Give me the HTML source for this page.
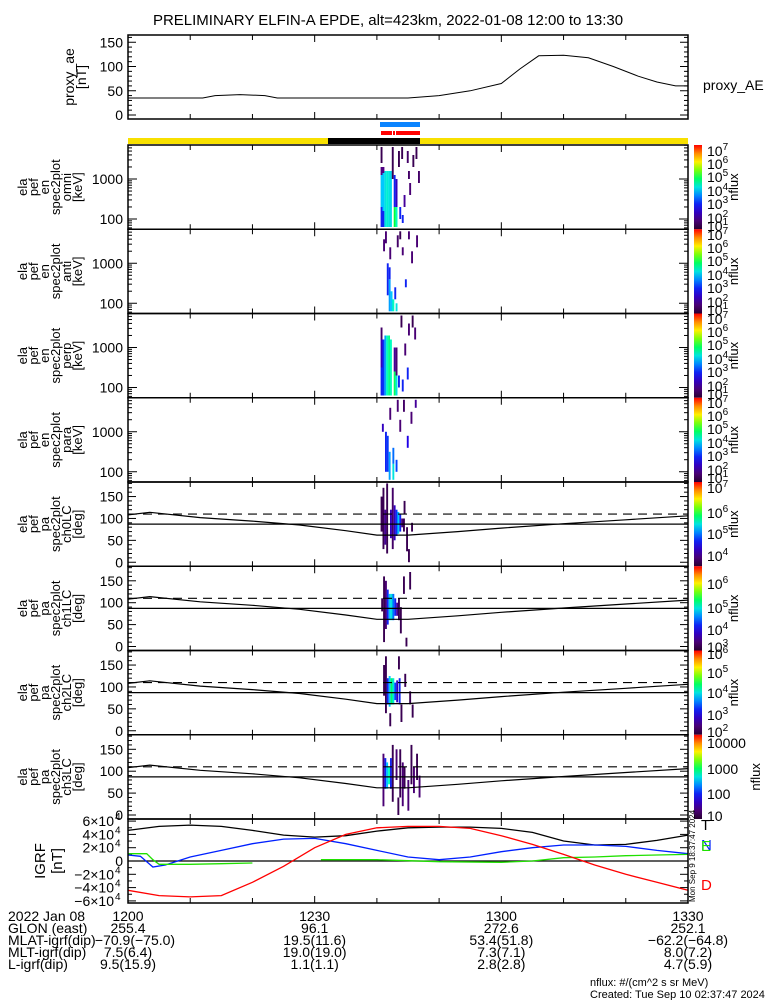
<!DOCTYPE html>
<html><head><meta charset="utf-8">
<style>
html,body{margin:0;padding:0;background:#fff;}
svg{display:block;font-family:"Liberation Sans",sans-serif;}
</style></head>
<body>
<svg id="c" width="775" height="1000" viewBox="0 0 775 1000"></svg>
<script>
// ---------- data ----------
const aeT = [0,12,14,18,22,24,45,50,55,60,63,66,70,74,78,82,85,88,90];
const aeV = [35,35,40,42,40,35,35,40,50,65,95,122,123,118,100,80,68,60,60];

const grfT = [0,5,10,15,20,25,30,35,40,45,50,55,60,65,70,75,80,85,90];
const grfTotal = [4.6,5.2,5.4,5.2,4.6,3.9,3.6,3.8,4.5,5.0,5.1,5.1,4.9,4.3,3.0,2.4,2.5,3.1,3.9];
const grfD = [-4.4,-5.2,-5.4,-5.2,-3.2,-0.8,2.0,4.0,5.0,5.2,5.2,4.9,3.8,2.5,1.0,-0.6,-2.0,-3.2,-4.4];
const grfNt = [0,2,4,6,10,15,20,25,30,35,40,45,50,55,60,65,70,75,80,85,90];
const grfN = [0.9,0.7,-0.9,-0.6,0.6,1.6,2.6,3.3,3.4,2.6,1.6,0.6,0.2,0.6,1.4,2.0,2.4,2.4,2.2,1.6,1.1];
const grfEt = [0,3,4,5,10,15,20,31,40,50,60,65,70,75,80,85,90];
const grfE = [1.1,1.1,0.2,-0.5,-0.5,-0.4,-0.3,0.2,0.2,-0.1,-0.2,0.0,0.5,0.6,0.8,0.9,1.0];
const grfEgap = 20; // gap between index 6 and 7

const lcT = [0,3.5,11.6,20,27.6,35,40,45,53,60,70,80,90];
const lcV = [108,114,102,94,85,72,62,62,70,78,88,97,106];
const paSolid = 87, paDashed = 110;

const spec1 = [[40.6,1.8,2.3,.3],[40.6,2.3,3.1,.45],[40.6,3.1,3.3,.12],[40.6,3.4,3.8,.05],[40.9,1.8,2.2,.3],[40.9,2.2,3.15,.45],[40.9,3.15,3.3,.12],[41.2,1.8,3.2,.5],[41.5,1.8,3.2,.52],[41.8,1.8,3.2,.5],[42.1,1.8,3.2,.48],[42.4,3.0,3.8,.05],[42.7,1.8,2.3,.62],[42.7,2.3,3.1,.3],[43.0,1.8,2.3,.55],[43.0,2.3,3.0,.2],[43.4,3.3,3.7,.05],[43.9,3.5,3.8,.05],[44.3,2.3,2.6,.15],[44.8,3.4,3.7,.08],[45.2,2.6,2.9,.1],[45.7,3.3,3.6,.05],[46.2,3.5,3.8,.05],[46.6,2.9,3.2,.08],[43.6,2.0,2.3,.3],[44.0,1.9,2.1,.3],[45.0,3.0,3.2,.08]];
const spec2 = [[41.6,2.2,3.0,.3],[41.9,1.8,2.6,.42],[41.9,2.6,2.9,.3],[42.2,1.8,2.3,.45],[42.5,1.8,2.1,.55],[41.0,3.3,3.6,.1],[41.3,3.5,3.8,.1],[42.0,3.1,3.4,.1],[43.2,3.4,3.7,.08],[43.6,3.6,3.8,.05],[44.0,3.2,3.4,.1],[44.5,2.4,2.6,.3],[45.0,3.6,3.8,.1],[45.5,3.0,3.3,.1],[46.3,3.4,3.7,.1],[42.8,2.1,2.4,.3],[43.0,1.8,2.0,.5]];
const spec3 = [[40.6,1.8,2.5,.3],[40.6,2.5,3.2,.2],[40.6,3.2,3.5,.08],[40.9,1.8,3.2,.32],[41.2,1.8,3.3,.42],[41.5,1.8,3.3,.55],[41.8,1.8,3.3,.58],[42.1,1.8,3.2,.55],[42.7,1.8,2.4,.6],[42.7,2.4,3.0,.15],[43.0,1.8,2.3,.5],[43.0,2.3,3.0,.1],[43.4,2.0,2.3,.3],[44.0,1.9,2.2,.3],[44.4,2.8,3.1,.1],[45.0,3.3,3.6,.1],[45.6,3.5,3.8,.05],[46.0,3.2,3.5,.1],[43.8,3.5,3.8,.05],[44.8,2.2,2.5,.3]];
const spec4 = [[41.3,2.0,3.0,.3],[41.6,2.0,2.9,.33],[41.9,1.8,2.5,.42],[42.5,1.8,2.2,.5],[42.5,2.2,2.6,.38],[40.8,3.0,3.2,.2],[42.0,3.3,3.6,.1],[43.2,3.5,3.8,.1],[43.6,3.0,3.3,.1],[44.2,3.5,3.8,.08],[44.8,2.6,2.9,.25],[45.4,3.2,3.5,.1],[46.1,3.6,3.8,.15],[43.0,2.0,2.3,.35]];
const spec5 = [[40.6,70,150,.05],[40.9,30,170,.05],[41.2,40,120,.15],[41.5,20,180,.05],[42.1,55,120,.2],[42.4,30,170,.08],[42.7,50,130,.2],[43.0,60,120,.32],[43.3,65,115,.45],[43.6,70,110,.3],[43.9,80,100,.1],[44.2,70,100,.05],[44.7,25,80,.05],[44.3,110,140,.05],[45.0,0,30,.05],[45.5,70,90,.05]];
const spec6 = [[41.0,10,160,.05],[41.3,40,150,.1],[41.6,50,130,.3],[41.9,60,120,.45],[42.2,60,120,.5],[42.5,60,120,.38],[42.8,70,110,.3],[43.1,70,100,.15],[43.4,60,110,.05],[43.7,30,90,.05],[44.2,120,160,.05],[44.6,0,20,.05],[45.2,130,170,.05],[40.7,80,110,.05]];
const spec7 = [[41.0,80,150,.05],[41.3,40,170,.05],[41.6,60,120,.3],[41.9,55,125,.45],[42.2,60,120,.6],[42.5,60,120,.5],[42.8,70,110,.35],[43.1,65,115,.2],[43.5,60,120,.3],[43.8,20,60,.05],[42.0,10,40,.05],[44.4,100,130,.05],[45.2,60,90,.05],[45.6,30,60,.05],[43.4,140,170,.05]];
const spec8 = [[40.9,20,140,.1],[41.2,60,130,.3],[41.5,60,120,.45],[41.8,70,110,.55],[42.1,60,130,.3],[42.4,30,160,.05],[43.0,80,150,.1],[43.6,40,150,.05],[44.0,20,120,.1],[44.3,60,110,.05],[44.9,10,80,.1],[45.4,70,160,.05],[45.8,50,110,.1],[46.3,80,140,.05],[46.7,40,90,.1],[43.3,0,40,.05]];

const panelNames = ["omni","anti","perp","para","ch0LC","ch1LC","ch2LC","ch3LC"];
const cbLabels = [
 [["7",148],["6",161],["5",174],["4",188],["3",201],["2",215],["1",223]],
 [["7",232],["6",245],["5",258],["4",272],["3",285],["2",299],["1",307]],
 [["7",316],["6",329],["5",342],["4",356],["3",369],["2",383],["1",391]],
 [["7",400],["6",413],["5",426],["4",440],["3",453],["2",467],["1",475]],
 [["7",485],["6",510],["5",531],["4",553]],
 [["6",581],["5",605],["4",627],["3",644]],
 [["6",651],["5",670],["4",690],["3",712],["2",729]],
 [["10000",743],["1000",769],["100",794],["10",816]]
];

// ---------- helpers ----------
const svg = document.getElementById('c');
const NS = 'http://www.w3.org/2000/svg';
const X0 = 128, X1 = 688, TMAX = 90;
function xs(t){ return X0 + t*(X1-X0)/TMAX; }
function mk(tag, attrs, parent){
  const e = document.createElementNS(NS, tag);
  for (const k in attrs) e.setAttribute(k, attrs[k]);
  (parent||svg).appendChild(e);
  return e;
}
function txt(x,y,s,size,anchor,fill,parent){
  const e = mk('text',{x:x,y:y,'font-size':size,'text-anchor':anchor||'start',fill:fill||'#000'},parent);
  e.textContent = s; return e;
}
const stops = [[0,[40,0,48]],[0.12,[80,0,130]],[0.25,[30,0,230]],[0.35,[0,70,255]],[0.45,[0,200,255]],[0.55,[0,255,190]],[0.62,[0,255,60]],[0.72,[150,255,0]],[0.8,[255,240,0]],[0.9,[255,140,0]],[1,[255,0,0]]];
function cmap(v){
  for (let i=1;i<stops.length;i++){
    if (v<=stops[i][0]){
      const a=stops[i-1], b=stops[i], f=(v-a[0])/(b[0]-a[0]);
      const c=a[1].map((q,j)=>Math.round(q+(b[1][j]-q)*f));
      return 'rgb('+c.join(',')+')';
    }
  }
  return 'rgb(255,0,0)';
}
function polyline(ts, vs, yf, color, name, w){
  const pts = ts.map((t,i)=>xs(t).toFixed(1)+','+yf(vs[i]).toFixed(1)).join(' ');
  const p = mk('polyline',{points:pts,fill:'none',stroke:color,'stroke-width':w||1.2});
  
  
  return p;
}
function rotLabel(lines, cy, xStart, step, size){
  lines.forEach((s,i)=>{
    const cx = xStart + i*step;
    const e = mk('text',{x:cx+4,y:cy,'font-size':size,'text-anchor':'middle',transform:'rotate(-90 '+(cx+4)+' '+cy+')'});
    e.textContent = s;
  });
}
function timeTicks(top,bot){
  for (let t=10;t<90;t+=10){
    const l = (t%30===0)?7:5;
    mk('line',{x1:xs(t),y1:top,x2:xs(t),y2:top+l,stroke:'#000','stroke-width':1});
    mk('line',{x1:xs(t),y1:bot,x2:xs(t),y2:bot-l,stroke:'#000','stroke-width':1});
  }
}
function yTick(y,len){
  mk('line',{x1:X0,y1:y,x2:X0+len,y2:y,stroke:'#000','stroke-width':1});
  mk('line',{x1:X1,y1:y,x2:X1-len,y2:y,stroke:'#000','stroke-width':1});
}
function frame(top,bot,name){
  const r = mk('rect',{x:X0,y:top,width:X1-X0,height:bot-top,fill:'none',stroke:'#000','stroke-width':1.5});
  
  
}

// ---------- title ----------
const title = txt(388,25,'PRELIMINARY ELFIN-A EPDE, alt=423km, 2022-01-08 12:00 to 13:30',15,'middle');



// ---------- AE panel ----------
const aeTop=35, aeBot=119;
function yAE(v){ return 115 - v*0.485; }
timeTicks(aeTop,aeBot);
for (let v=0; v<=160; v+=10){ const y=yAE(v); if(y>aeTop) yTick(y, v%50===0?8:4); }
[0,50,100,150].forEach(v=>txt(123,yAE(v)+5,String(v),14,'end'));
polyline(aeT, aeV, yAE, '#000', 'proxy-ae-line', 1);
frame(aeTop,aeBot,'proxy-ae-panel');
rotLabel(['proxy_ae','[nT]'],77,70,12,14);
const aeLeg = txt(703,90,'proxy_AE',14,'start');



// ---------- status bars ----------
function bar(x1,x2,y,h,c,name){
  const r = mk('rect',{x:x1,y:y,width:x2-x1,height:h,fill:c});
  
  
}
bar(380,420,122,5,'#0a84ff','science-zone-bar-blue');
bar(381,392,131,4,'#ff0000','science-zone-bar-red-1');
bar(393,395,131,4,'#ff0000','science-zone-bar-red-2');
bar(396,420,131,4,'#ff0000','science-zone-bar-red-3');
bar(128,328,138,6,'#f8e000','sunlight-bar-left');
bar(328,420,138,6,'#000000','eclipse-bar');
bar(420,688,138,6,'#f8e000','sunlight-bar-right');

// ---------- spectrogram panels ----------
const specs = [spec1,spec2,spec3,spec4,spec5,spec6,spec7,spec8];
const PH = 84.25;
for (let p=0;p<8;p++){
  const top = 145 + p*PH, bot = top + PH;
  const isEn = p<4;
  const g = mk('g',{});
  
  
  const yf = isEn ? (l=> top+34+(3-l)*40) : (a=> bot-4-a*0.438);
  specs[p].forEach(c=>{
    const y1 = yf(c[2]), y2 = yf(c[1]);
    const r = mk('rect',{x:xs(c[0]).toFixed(1),y:Math.max(top,Math.min(y1,y2)).toFixed(1),width:(xs(c[0]+0.3)-xs(c[0])).toFixed(1),height:Math.abs(y2-y1).toFixed(1),fill:cmap(c[3])},g);
    
    
  });
  if (isEn){
    for (let d=1; d<=3; d++){
      for (let k=1;k<=9;k++){
        const l = d + Math.log10(k);
        const y = yf(l);
        if (y>top && y<bot) yTick(y, k===1?9:4);
      }
    }
    txt(123,yf(3)+5,'1000',14,'end');
    txt(123,yf(2)+5,'100',14,'end');
    rotLabel(['ela','pef','en','spec2plot',panelNames[p],'[keV]'],top+PH/2,23,11,13);
  } else {
    for (let a=-0; a<=180; a+=10) yTick(yf(a), a%50===0?8:4);
    [0,50,100,150].forEach(a=>txt(123,yf(a)+5,String(a),14,'end'));
    mk('line',{x1:X0,y1:yf(paSolid),x2:X1,y2:yf(paSolid),stroke:'#000','stroke-width':1.2});
    mk('line',{x1:X0,y1:yf(paDashed),x2:X1,y2:yf(paDashed),stroke:'#000','stroke-width':1.2,'stroke-dasharray':'9,6'});
    polyline(lcT, lcV, yf, '#000', 'loss-cone-line-'+panelNames[p], 1.2);
    rotLabel(['ela','pef','pa','spec2plot',panelNames[p],'[deg]'],top+PH/2,23,11,13);
  }
  timeTicks(top,bot);
  frame(top,bot,'panel-frame-'+panelNames[p]);
  // colorbar
  const gid = 'cbg'+p;
  const lg = mk('linearGradient',{id:gid,x1:0,y1:1,x2:0,y2:0});
  for (let i=0;i<=10;i++) mk('stop',{offset:i/10,'stop-color':cmap(i/10)},lg);
  const defs = mk('defs',{}); defs.appendChild(lg);
  const cb = mk('rect',{x:694,y:top,width:8,height:PH,fill:'url(#'+gid+')'});
  
  
  cbLabels[p].forEach(l=>{
    if (p===7){ txt(707,l[1]+5,l[0],14,'start'); }
    else {
      const e = mk('text',{x:707,y:l[1]+8,'font-size':14});
      e.textContent='10';
      const s = mk('tspan',{dy:-6,'font-size':10},e); s.textContent=l[0];
    }
  });
  const nx = p===7?760:738;
  const nf = mk('text',{x:nx,y:top+PH/2,'font-size':13,'text-anchor':'middle',transform:'rotate(-90 '+nx+' '+(top+PH/2)+')'});
  nf.textContent='nflux';
}

// ---------- GRF panel ----------
const gTop=819, gBot=903;
function yG(v){ return 861 - v*6.65; }
for (let v=-6; v<=6; v+=1) yTick(yG(v), v%2===0?8:4);
[[6,'6×10'],[4,'4×10'],[2,'2×10'],[-2,'−2×10'],[-4,'−4×10'],[-6,'−6×10']].forEach(a=>{
  const e = mk('text',{x:114,y:yG(a[0])+5,'font-size':14,'text-anchor':'end'});
  e.textContent=a[1];
  const s = mk('text',{x:115,y:yG(a[0])-1,'font-size':10}); s.textContent='4';
});
txt(123,yG(0)+5,'0',14,'end');
mk('line',{x1:X0,y1:yG(0),x2:X1,y2:yG(0),stroke:'#000','stroke-width':1.2});
polyline(grfT, grfTotal, yG, '#000', 'igrf-total-line', 1.3);
polyline(grfNt, grfN, yG, '#0020ff', 'igrf-north-line', 1.3);
polyline(grfEt.slice(0,7), grfE.slice(0,7), yG, '#20e000', 'igrf-east-line-a', 1.3);
polyline(grfEt.slice(7), grfE.slice(7), yG, '#20e000', 'igrf-east-line-b', 1.3);
polyline(grfT, grfD, yG, '#ff0000', 'igrf-down-line', 1.3);
timeTicks(gTop,gBot);
frame(gTop,gBot,'igrf-panel');
rotLabel(['IGRF','[nT]'],861,41,17,15);
[['T',830,'#000'],['N',850,'#0020ff'],['E',851,'#20e000'],['D',890,'#ff0000']].forEach(l=>{
  const e = txt(701,l[1],l[0],15,'start',l[2]);
  
  
});
const stamp = mk('text',{x:695,y:902,'font-size':8,transform:'rotate(-90 695 902)'});
stamp.textContent='Mon Sep  9 18:37:47 2024';

// ---------- bottom annotations ----------
const rowsL = ['2022 Jan 08','GLON (east)','MLAT-igrf(dip)','MLT-igrf(dip)','L-igrf(dip)'];
const colT = [0,30,60,90];
const colVals = [
 ['1200','255.4','-70.9(-75.0)','7.5(6.4)','9.5(15.9)'],
 ['1230','96.1','19.5(11.6)','19.0(19.0)','1.1(1.1)'],
 ['1300','272.6','53.4(51.8)','7.3(7.1)','2.8(2.8)'],
 ['1330','252.1','-62.2(-64.8)','8.0(7.2)','4.7(5.9)']
];
const rowY = [921,933,945,957,969];
rowsL.forEach((s,i)=>txt(8,rowY[i],s,14,'start'));
colT.forEach((t,c)=>{
  colVals[c].forEach((s,i)=>{
    let x = xs(t);
    if (c===0 && i>=2) x = xs(t)+ (i===2?7:0);
    txt(x,rowY[i],s.replace(/-/g,'−'),14,'middle');
  });
});
txt(590,986,'nflux: #/(cm^2 s sr MeV)',11,'start');
txt(590,998,'Created: Tue Sep 10 02:37:47 2024',11,'start');
</script>
</body></html>
